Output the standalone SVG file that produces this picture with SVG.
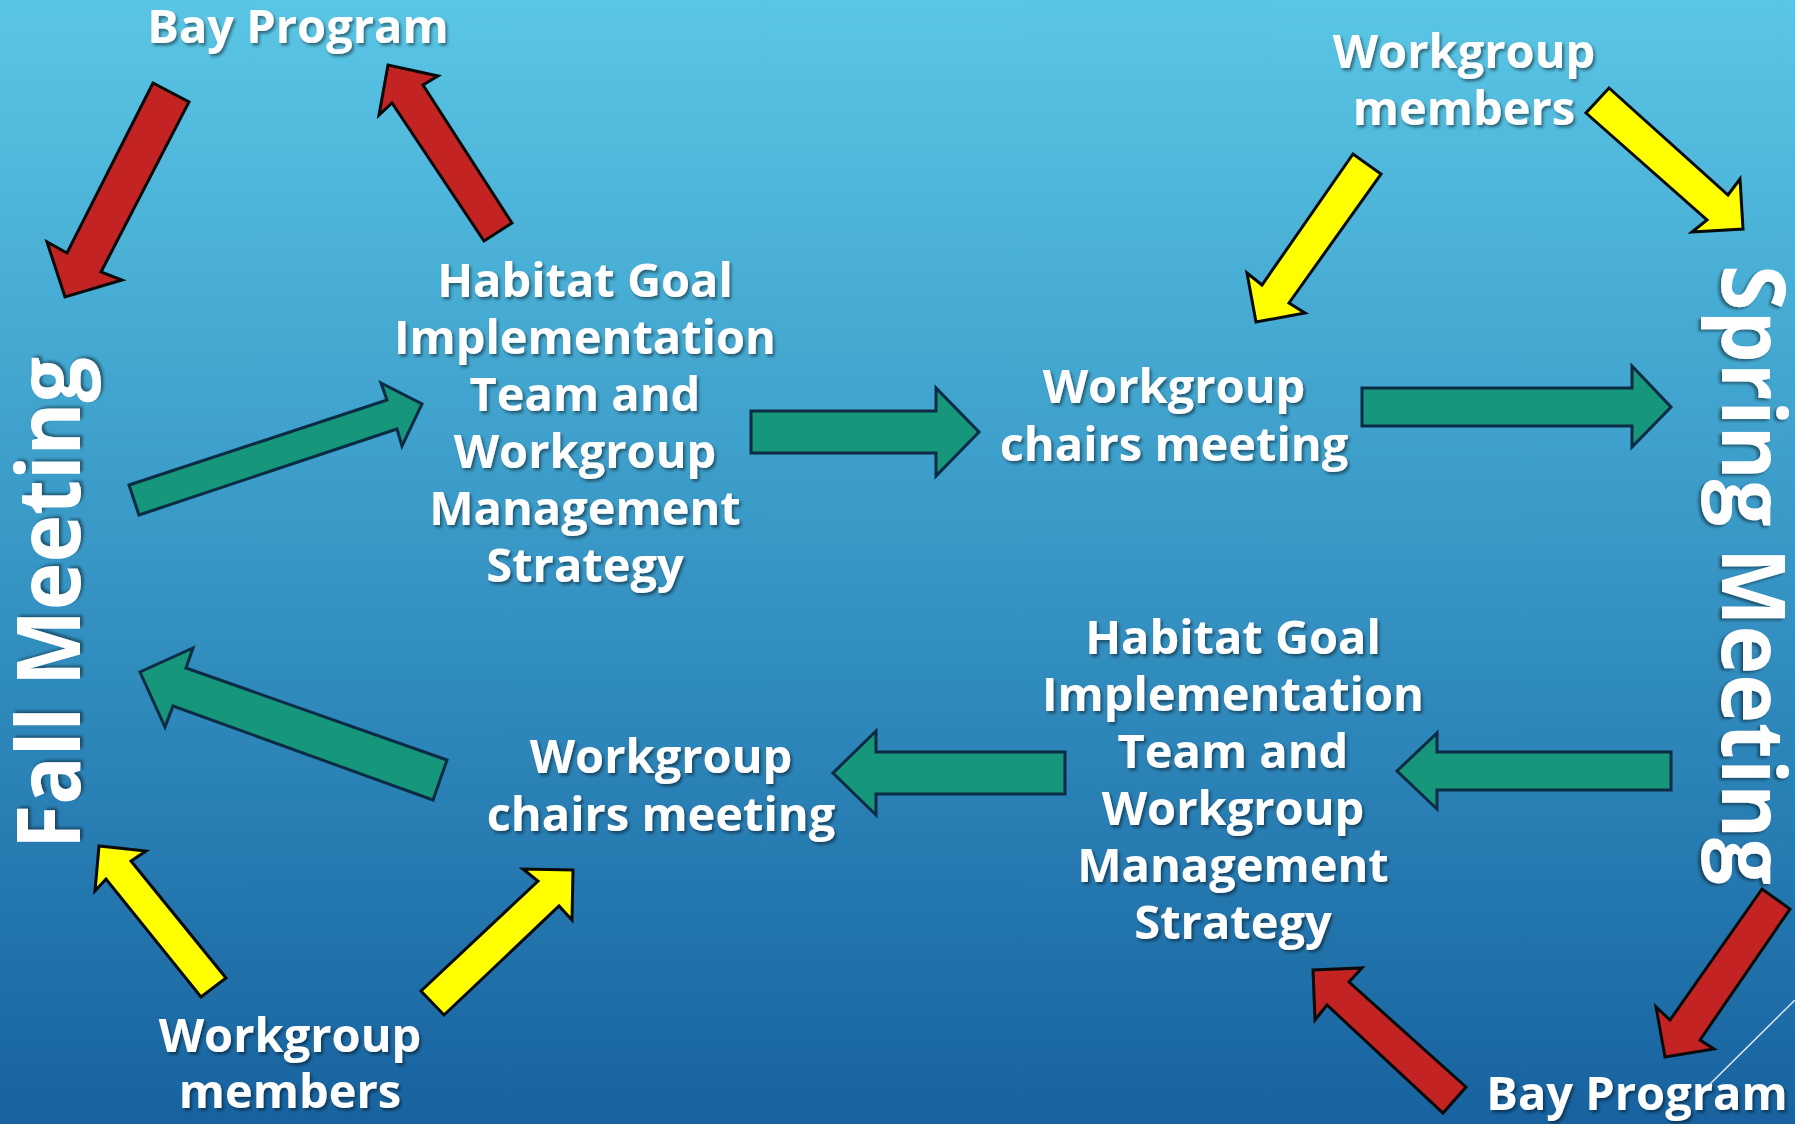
<svg xmlns="http://www.w3.org/2000/svg" width="1795" height="1124" viewBox="0 0 1795 1124">
  <defs>
    <linearGradient id="bg" x1="0" y1="0" x2="0" y2="1">
      <stop offset="0" stop-color="#5AC6E5"/>
      <stop offset="0.5" stop-color="#3796C5"/>
      <stop offset="1" stop-color="#17629F"/>
    </linearGradient>
    <filter id="sh" x="-10%" y="-20%" width="120%" height="150%">
      <feDropShadow dx="2" dy="2.5" stdDeviation="1.5" flood-color="#000" flood-opacity="0.45"/>
    </filter>
  </defs>
  <style>
    .t { font-family: "Open Sans", "DejaVu Sans", sans-serif; font-weight: bold; font-size: 47px; fill: #fff; text-anchor: middle; filter: url(#sh); }
    .big { font-size: 88px; }
    .red { fill: #C42323; stroke: #0a0a0a; stroke-width: 3; stroke-linejoin: miter; }
    .yel { fill: #FFFF00; stroke: #0a0a0a; stroke-width: 3; stroke-linejoin: miter; }
    .grn { fill: #16967A; stroke: #0C2B44; stroke-width: 3; stroke-linejoin: miter; }
  </style>
  <rect width="1795" height="1124" fill="url(#bg)"/>
  <line x1="1795" y1="1000" x2="1707" y2="1087" stroke="#fff" stroke-width="1.5" opacity="0.85"/>

  <g id="connectors">
    <polygon class="red" points="153,83 67,253 47,242 65,297 122,280 101,272 189,102"/>
    <polygon class="red" points="484,241 392,103 379,115 388,65 438,76 423,85 512,223"/>
    <polygon class="yel" points="1586,113 1707,220 1692,232 1743,229 1740,179 1728,195 1609,88"/>
    <polygon class="yel" points="1353,154 1262,285 1247,273 1256,322 1305,313 1289,303 1381,174"/>
    <polygon class="grn" points="129,485 387,400 381,383 422,404 402,446 397,429 139,515"/>
    <polygon class="grn" points="751,411 936,411 936,388 979,432 936,476 936,453 751,453"/>
    <polygon class="grn" points="1362,388 1632,388 1632,366 1671,407 1632,447 1632,426 1362,426"/>
    <polygon class="grn" points="1671,752 1437,752 1437,733 1397,771 1437,809 1437,790 1671,790"/>
    <polygon class="grn" points="1065,752 876,752 876,731 833,773 876,815 876,794 1065,794"/>
    <polygon class="grn" points="447,760 186,668 193,648 140,672 165,727 173,706 433,800"/>
    <polygon class="yel" points="226,978 131,861 146,851 99,846 95,891 106,879 201,997"/>
    <polygon class="yel" points="421,991 538,881 523,869 573,870 572,920 559,906 444,1015"/>
    <polygon class="red" points="1466,1087 1349,982 1362,968 1313,970 1315,1020 1327,1005 1443,1113"/>
    <polygon class="red" points="1762,889 1670,1020 1656,1007 1665,1057 1714,1049 1700,1040 1790,909"/>
  </g>

  <g id="bay-program-top">
    <text class="t" x="298" y="43">Bay Program</text>
  </g>
  <g id="workgroup-members-top">
    <text class="t" x="1464" y="68">Workgroup</text>
    <text class="t" x="1464" y="125">members</text>
  </g>
  <g id="habitat-top">
    <text class="t" x="585" y="297">Habitat Goal</text>
    <text class="t" x="585" y="354">Implementation</text>
    <text class="t" x="585" y="411">Team and</text>
    <text class="t" x="585" y="468">Workgroup</text>
    <text class="t" x="585" y="525">Management</text>
    <text class="t" x="585" y="582">Strategy</text>
  </g>
  <g id="chairs-top">
    <text class="t" x="1174" y="403">Workgroup</text>
    <text class="t" x="1174" y="461">chairs meeting</text>
  </g>
  <g id="spring-meeting">
    <text class="t big" transform="translate(1722,575) rotate(90)" textLength="620" lengthAdjust="spacingAndGlyphs">Spring Meeting</text>
  </g>
  <g id="fall-meeting">
    <text class="t big" transform="translate(80,603) rotate(-90)" textLength="492" lengthAdjust="spacingAndGlyphs">Fall Meeting</text>
  </g>
  <g id="habitat-bottom">
    <text class="t" x="1233" y="654">Habitat Goal</text>
    <text class="t" x="1233" y="711">Implementation</text>
    <text class="t" x="1233" y="768">Team and</text>
    <text class="t" x="1233" y="825">Workgroup</text>
    <text class="t" x="1233" y="882">Management</text>
    <text class="t" x="1233" y="939">Strategy</text>
  </g>
  <g id="chairs-bottom">
    <text class="t" x="661" y="773">Workgroup</text>
    <text class="t" x="661" y="831">chairs meeting</text>
  </g>
  <g id="workgroup-members-bottom">
    <text class="t" x="290" y="1052">Workgroup</text>
    <text class="t" x="290" y="1108">members</text>
  </g>
  <g id="bay-program-bottom">
    <text class="t" x="1637" y="1110">Bay Program</text>
  </g>
</svg>
